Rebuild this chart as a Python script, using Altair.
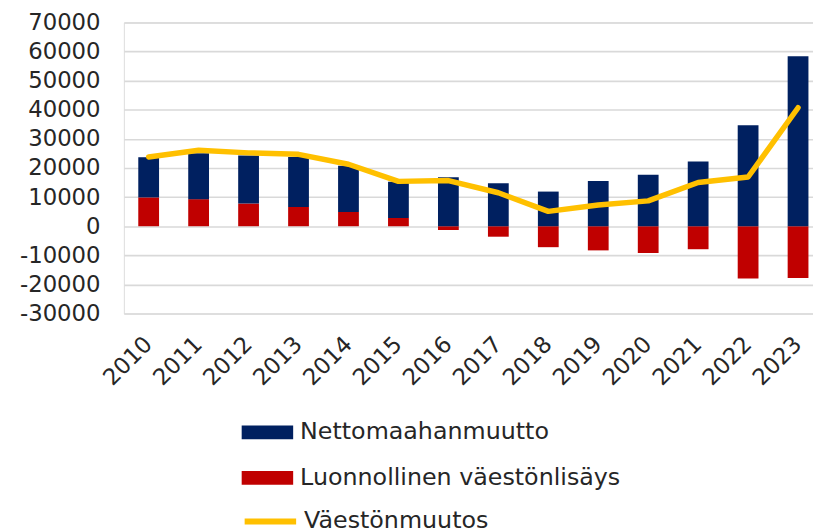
import altair as alt
import pandas as pd

years = ["2010", "2011", "2012", "2013", "2014", "2015", "2016",
         "2017", "2018", "2019", "2020", "2021", "2022", "2023"]
net_migration = [13800, 15800, 16500, 17200, 15900, 12500, 16800,
                 14800, 11900, 15500, 17700, 22200, 34700, 58400]
natural_increase = [9900, 9300, 7800, 6600, 4900, 2800, -1300,
                    -3600, -7200, -8300, -9200, -7900, -18000, -17800]
population_change = [23800, 26100, 25200, 24700, 21300, 15400, 15700,
                     11500, 5100, 7300, 8700, 15000, 16900, 40700]
y_ticks = [-30000, -20000, -10000, 0, 10000, 20000, 30000, 40000,
           50000, 60000, 70000]

S_NET = "Nettomaahanmuutto"
S_NAT = "Luonnollinen väestönlisäys"
S_CHG = "Väestönmuutos"

rows = []
for i, yr in enumerate(years):
    rows.append({"year": yr, "series": S_NAT, "value": natural_increase[i], "ord": 0})
    rows.append({"year": yr, "series": S_NET, "value": net_migration[i], "ord": 1})
bars_df = pd.DataFrame(rows)
line_df = pd.DataFrame({"year": years, "value": population_change,
                        "series": [S_CHG] * len(years)})

FONT = "DejaVu Sans"
TXT = "#262626"
FS = 23

x_axis = alt.Axis(labelAngle=315, labelAlign="right", labelBaseline="middle",
                  labelFontSize=FS, labelFont=FONT, labelColor=TXT,
                  labelPadding=27, ticks=False, domain=False, grid=False,
                  labelOverlap=False)
x_scale = alt.Scale(paddingInner=0.584, paddingOuter=0.19, align=0.76)
y_scale = alt.Scale(domain=[-30000, 70000], nice=False)
y_axis = alt.Axis(values=y_ticks, labelExpr="'' + datum.value",
                  labelFontSize=FS, labelFont=FONT, labelColor=TXT,
                  labelPadding=24, ticks=False, domain=False,
                  labelOverlap=False,
                  grid=True, gridColor="#d9d9d9", gridWidth=1.6)

rect_path = "M-1,-0.27H1V0.27H-1Z"

bars = alt.Chart(bars_df).mark_bar().encode(
    x=alt.X("year:O", sort=years, title=None, scale=x_scale, axis=x_axis),
    y=alt.Y("value:Q", stack="zero", scale=y_scale, axis=y_axis, title=None),
    color=alt.Color(
        "series:N",
        scale=alt.Scale(domain=[S_NET, S_NAT], range=["#002060", "#C00000"]),
        legend=alt.Legend(title=None, orient="none", legendX=119, legendY=388,
                          direction="vertical", symbolType=rect_path,
                          symbolSize=2704, symbolStrokeWidth=0,
                          labelFontSize=24, labelFont=FONT, labelColor=TXT,
                          labelOffset=7, rowPadding=8, padding=0,
                          labelLimit=500),
    ),
    order=alt.Order("ord:Q", sort="ascending"),
)

line = alt.Chart(line_df).mark_line(strokeWidth=5.5, strokeCap="round",
                                    strokeJoin="round").encode(
    x=alt.X("year:O", sort=years, title=None, scale=x_scale, axis=x_axis),
    y=alt.Y("value:Q", scale=y_scale, axis=y_axis, title=None),
    stroke=alt.Stroke(
        "series:N",
        scale=alt.Scale(domain=[S_CHG], range=["#FFC000"]),
        legend=alt.Legend(title=None, orient="none", legendX=119, legendY=475,
                          symbolType="stroke", symbolSize=2704,
                          symbolStrokeWidth=6,
                          labelFontSize=24, labelFont=FONT, labelColor=TXT,
                          labelOffset=5, padding=0, labelLimit=500),
    ),
)

chart = alt.layer(bars, line).properties(
    width=696,
    height=294,
    autosize=alt.AutoSizeParams(type="none"),
    padding={"left": 117, "top": 12, "right": 0, "bottom": 216},
).configure_view(stroke=None).configure(background="white")

chart.save("out.html", embed_options={"renderer": "svg", "actions": False})
